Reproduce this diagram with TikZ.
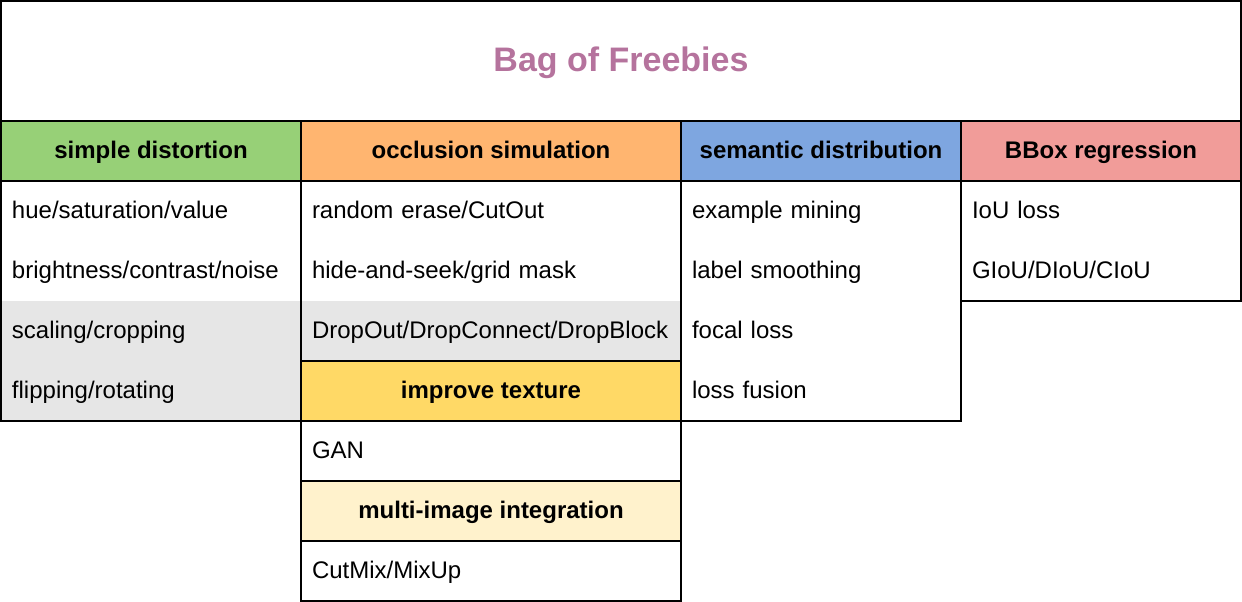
\documentclass[tikz,border=0pt]{standalone}
\usepackage{fontspec}
\setmainfont{Liberation Sans}
\usepackage{xcolor}
\usetikzlibrary{positioning}

\definecolor{freebie}{HTML}{B5739D}
\definecolor{cgreen}{HTML}{97D077}
\definecolor{corange}{HTML}{FFB570}
\definecolor{cblue}{HTML}{7EA6E0}
\definecolor{cred}{HTML}{F19C99}
\definecolor{cyellow}{HTML}{FFD966}
\definecolor{clight}{HTML}{FFF2CC}
\definecolor{shade}{HTML}{E6E6E6}

\begin{document}
\begin{tikzpicture}[x=1pt, y=-1pt,
  hdr/.style={rectangle, draw=black, line width=2pt, inner sep=0pt, outer sep=0pt,
              minimum height=60pt, text height=15.5pt, text depth=0pt,
              font=\fontsize{24}{28}\selectfont\bfseries},
  itm/.style={rectangle, fill=white, inner xsep=11pt, inner ysep=0pt, outer sep=0pt,
              minimum height=60pt, align=left, text height=15.5pt, text depth=0pt,
              font=\fontsize{24}{28}\selectfont},
  shd/.style={itm, fill=shade},
  grp/.style={draw=black, line width=2pt}
]
\useasboundingbox (0,0) rectangle (1242,602);

\node[hdr, minimum width=1240pt, minimum height=120pt, text=freebie, text height=20pt,
      font=\fontsize{34}{40}\selectfont\bfseries, anchor=north west] (title) at (1,1) {Bag of Freebies};

% simple distortion
\node[hdr, fill=cgreen, minimum width=300pt, anchor=north west] (hDist) at (1,121) {simple distortion};
\node[itm, text width=278pt, anchor=north] (d1) at (hDist.south) {hue/saturation/value};
\node[itm, text width=278pt, anchor=north] (d2) at (d1.south) {brightness/contrast/noise};
\node[shd, text width=278pt, anchor=north] (d3) at (d2.south) {scaling/cropping};
\node[shd, text width=278pt, anchor=north] (d4) at (d3.south) {flipping/rotating};
\draw[grp] (d1.north west) rectangle (d4.south east);

% occlusion simulation
\node[hdr, fill=corange, minimum width=380pt, anchor=north west] (hOccl) at (301,121) {occlusion simulation};
\node[itm, text width=358pt, anchor=north] (o1) at (hOccl.south) {random erase/CutOut};
\node[itm, text width=358pt, anchor=north] (o2) at (o1.south) {hide-and-seek/grid mask};
\node[shd, text width=358pt, anchor=north] (o3) at (o2.south) {DropOut/DropConnect/DropBlock};
\draw[grp] (o1.north west) rectangle (o3.south east);
\node[hdr, fill=cyellow, minimum width=380pt, anchor=north] (hTex) at (o3.south) {improve texture};
\node[itm, text width=358pt, anchor=north] (t1) at (hTex.south) {GAN};
\draw[grp] (t1.north west) rectangle (t1.south east);
\node[hdr, fill=clight, minimum width=380pt, anchor=north] (hMix) at (t1.south) {multi-image integration};
\node[itm, text width=358pt, anchor=north] (m1) at (hMix.south) {CutMix/MixUp};
\draw[grp] (m1.north west) rectangle (m1.south east);

% semantic distribution
\node[hdr, fill=cblue, minimum width=280pt, anchor=north west] (hSem) at (681,121) {semantic distribution};
\node[itm, text width=258pt, anchor=north] (s1) at (hSem.south) {example mining};
\node[itm, text width=258pt, anchor=north] (s2) at (s1.south) {label smoothing};
\node[itm, text width=258pt, anchor=north] (s3) at (s2.south) {focal loss};
\node[itm, text width=258pt, anchor=north] (s4) at (s3.south) {loss fusion};
\draw[grp] (s1.north west) rectangle (s4.south east);

% BBox regression
\node[hdr, fill=cred, minimum width=280pt, anchor=north west] (hBox) at (961,121) {BBox regression};
\node[itm, text width=258pt, anchor=north] (b1) at (hBox.south) {IoU loss};
\node[itm, text width=258pt, anchor=north] (b2) at (b1.south) {GIoU/DIoU/CIoU};
\draw[grp] (b1.north west) rectangle (b2.south east);
\end{tikzpicture}
\end{document}
